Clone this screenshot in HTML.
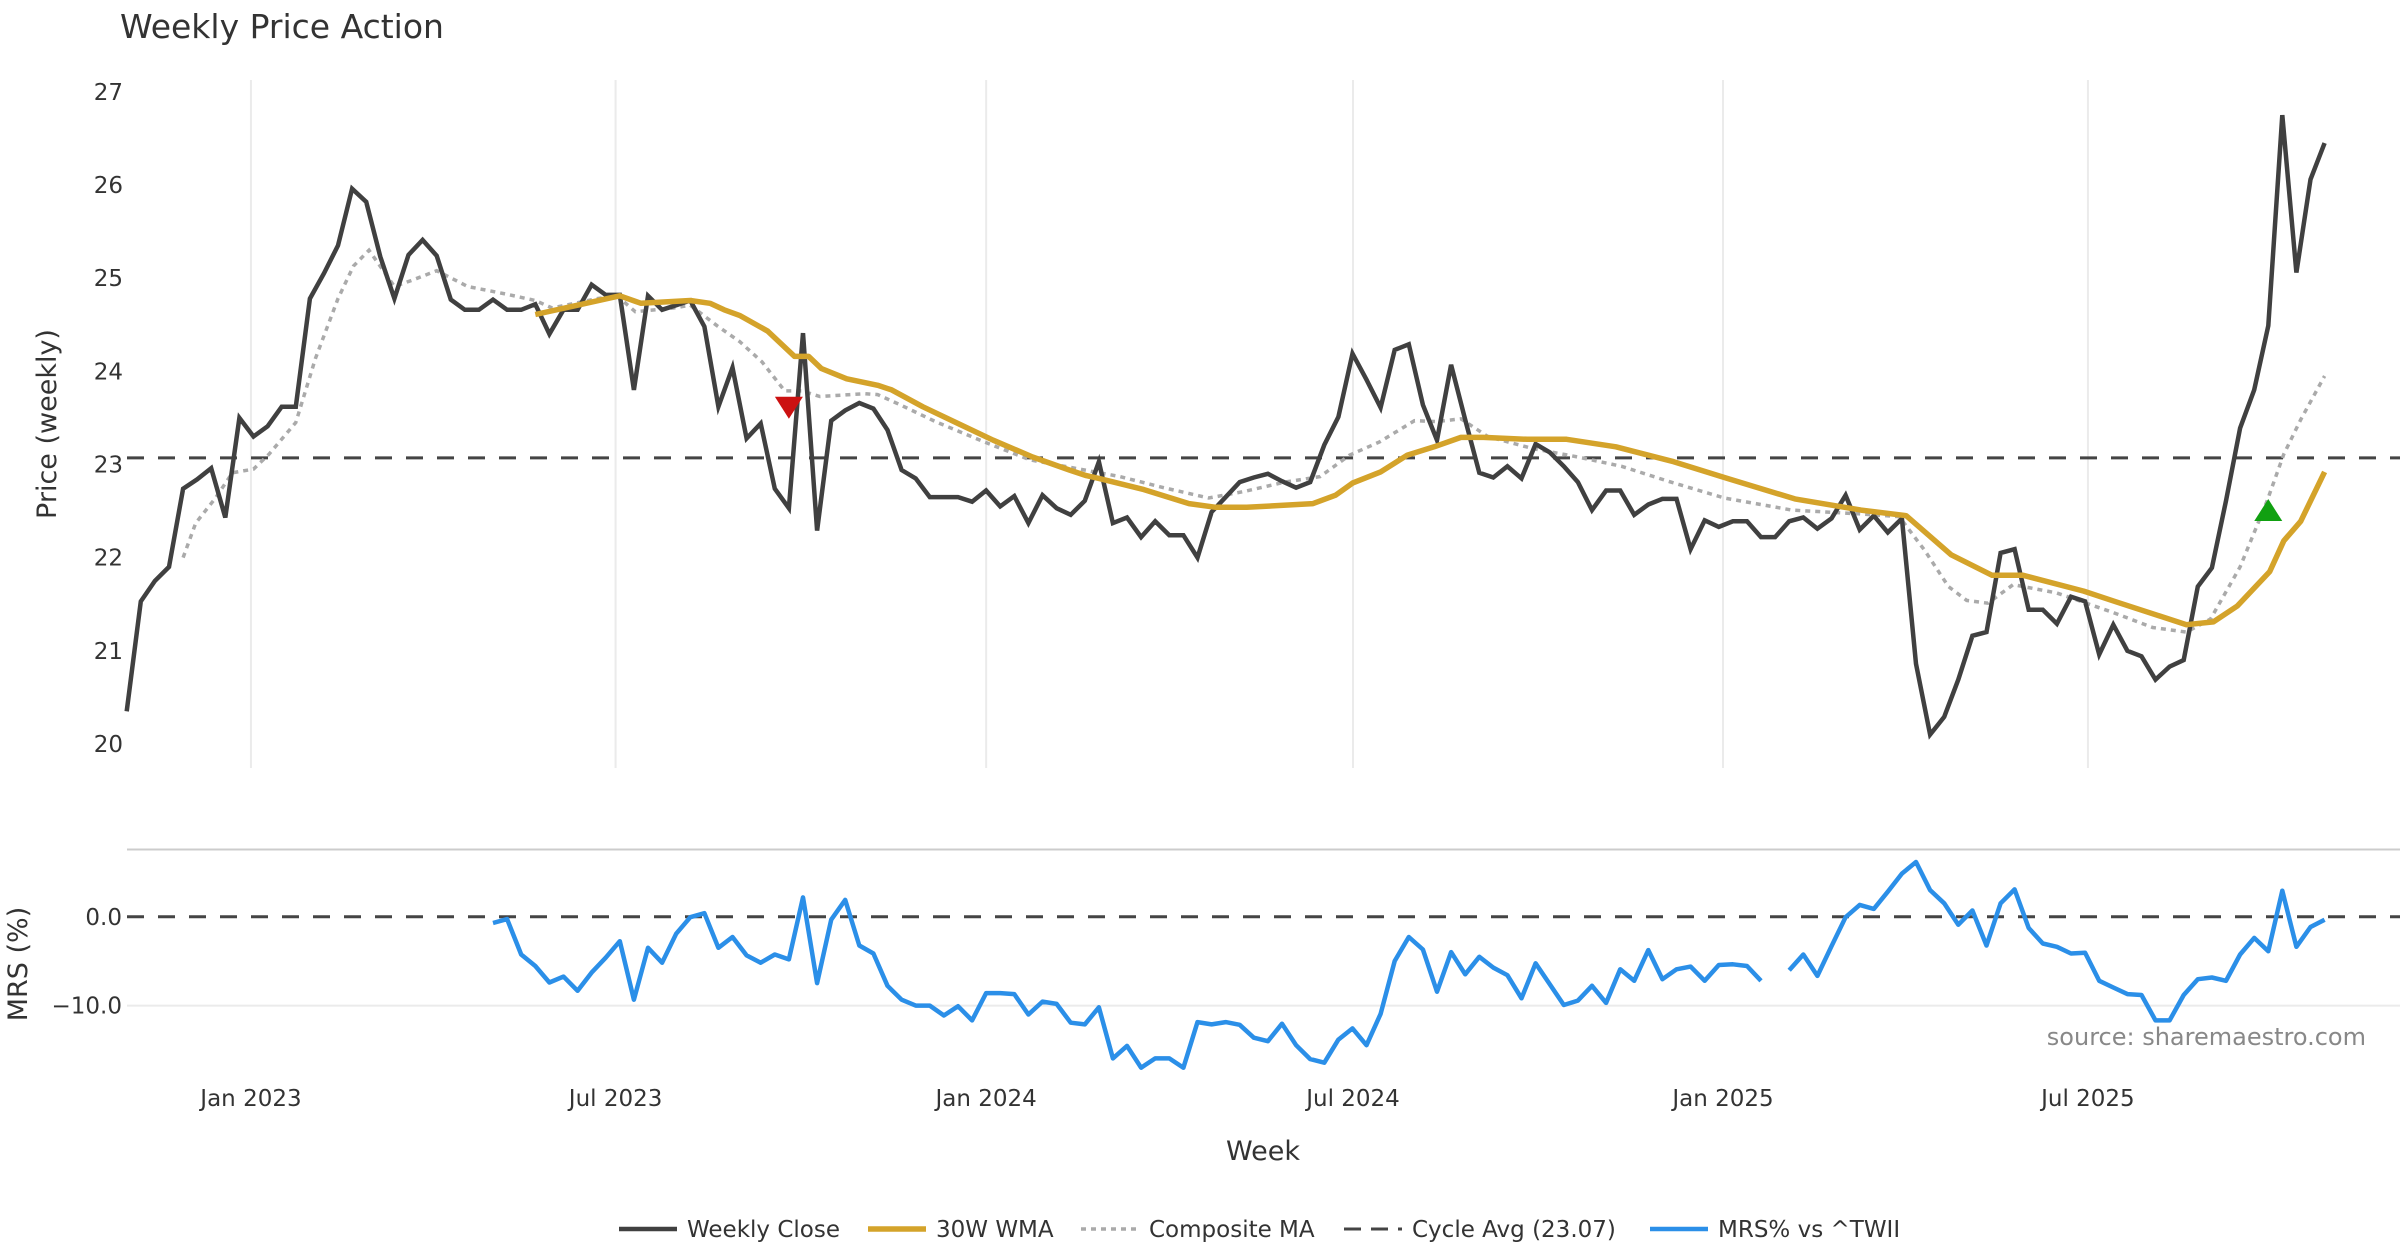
<!DOCTYPE html>
<html><head><meta charset="utf-8"><title>Weekly Price Action</title>
<style>
html,body{margin:0;padding:0;background:#fff;}
svg{display:block;font-family:"DejaVu Sans","Liberation Sans",sans-serif;}
</style></head>
<body>
<svg id="chart" width="2400" height="1260" viewBox="0 0 2400 1260" xmlns="http://www.w3.org/2000/svg">
<text x="120" y="38" font-size="33" fill="#333">Weekly Price Action</text>
<text transform="translate(56,424) rotate(-90)" text-anchor="middle" font-size="27" fill="#333">Price (weekly)</text>
<text transform="translate(27,964) rotate(-90)" text-anchor="middle" font-size="27" fill="#333">MRS (%)</text>
<text x="1263" y="1160" text-anchor="middle" font-size="27" fill="#333">Week</text>
<text x="2366" y="1045" text-anchor="end" font-size="24" fill="#888">source: sharemaestro.com</text>
<g id="grid"></g><g id="series"></g><g id="axes"></g><g id="legend"></g>
</svg>
<script>
const closeVals=[20.35,21.53,21.75,21.90,22.74,22.84,22.96,22.43,23.50,23.30,23.41,23.62,23.62,24.78,25.05,25.35,25.96,25.82,25.23,24.78,25.25,25.41,25.24,24.77,24.66,24.66,24.77,24.66,24.66,24.72,24.40,24.66,24.66,24.93,24.82,24.82,23.80,24.81,24.66,24.71,24.76,24.48,23.62,24.04,23.28,23.44,22.74,22.53,24.41,22.29,23.47,23.58,23.66,23.60,23.37,22.94,22.85,22.65,22.65,22.65,22.60,22.72,22.55,22.66,22.37,22.67,22.53,22.46,22.61,23.03,22.37,22.43,22.22,22.39,22.24,22.24,22.00,22.49,22.65,22.81,22.86,22.90,22.82,22.75,22.81,23.21,23.51,24.19,23.91,23.61,24.23,24.29,23.64,23.26,24.07,23.48,22.91,22.86,22.98,22.85,23.22,23.13,22.98,22.81,22.51,22.72,22.72,22.46,22.57,22.63,22.63,22.09,22.40,22.33,22.39,22.39,22.22,22.22,22.39,22.43,22.31,22.42,22.67,22.30,22.45,22.27,22.42,20.86,20.10,20.29,20.69,21.16,21.20,22.05,22.09,21.44,21.44,21.29,21.58,21.53,20.96,21.28,21.00,20.94,20.69,20.83,20.90,21.69,21.89,22.61,23.39,23.80,24.49,26.75,25.06,26.06,26.45];
const wmaIdx=[29,32,35,36.5,40,41.4,42.4,43.5,45.5,47.4,48.4,49.3,51.1,53.3,54.3,56.5,59,61.5,64.3,66.9,68.1,69,72.2,75.4,77.3,79.5,84.2,85.8,87,89,90.9,92.8,94.7,96.3,99.4,102.2,105.7,109.8,113.6,118.4,123.1,126.3,129.5,132.4,134.6,138.9,141.3,146.2,148.1,149.8,152.1,153.1,154.3,156];
const wmaVals=[24.61,24.71,24.81,24.73,24.76,24.73,24.66,24.60,24.43,24.16,24.16,24.03,23.92,23.85,23.80,23.62,23.44,23.26,23.08,22.94,22.88,22.85,22.73,22.58,22.54,22.54,22.58,22.67,22.80,22.92,23.10,23.19,23.29,23.29,23.27,23.27,23.19,23.03,22.85,22.63,22.51,22.45,22.03,21.81,21.81,21.64,21.52,21.28,21.31,21.48,21.85,22.18,22.39,22.92];
const compIdx=[4,4.9,6.3,7.5,9,10.1,12,13.4,15,16.1,17.2,19,20.3,22,24.2,26.9,29,30.2,33.4,34.8,36.1,38.8,40,41.9,43.5,45.1,46.7,47.9,49.2,52.4,53.3,54.9,57.4,60.9,64.1,67.3,70.5,73.6,76.8,79.3,82.2,84.7,86.8,88.9,91.4,93,94.7,96.6,99.8,103,106.1,109.6,113.4,118.2,122.9,125.8,127.6,129.3,130.6,132.1,133.9,137,141,143.8,146.2,147.9,150,151.9,153.1,154.3,156];
const compVals=[22.0,22.37,22.64,22.91,22.95,23.11,23.45,24.14,24.78,25.13,25.30,24.91,24.98,25.08,24.91,24.83,24.76,24.68,24.78,24.81,24.64,24.68,24.71,24.49,24.32,24.10,23.79,23.79,23.73,23.76,23.75,23.64,23.46,23.24,23.05,22.96,22.87,22.75,22.64,22.71,22.81,22.87,23.10,23.24,23.47,23.46,23.49,23.30,23.17,23.08,22.98,22.81,22.64,22.51,22.47,22.44,22.08,21.69,21.54,21.51,21.71,21.62,21.41,21.25,21.20,21.34,21.90,22.60,23.11,23.48,23.95];
const mrsStart=26;
const mrsVals=[-0.7,-0.26,-4.24,-5.54,-7.40,-6.73,-8.33,-6.28,-4.61,-2.75,-9.33,-3.49,-5.17,-1.90,-0.04,0.41,-3.49,-2.27,-4.35,-5.17,-4.24,-4.80,2.19,-7.47,-0.33,1.90,-3.23,-4.13,-7.77,-9.33,-10.0,-10.0,-11.12,-10.07,-11.67,-8.59,-8.59,-8.70,-11.0,-9.55,-9.81,-11.93,-12.12,-10.19,-15.95,-14.54,-16.99,-15.95,-15.95,-16.99,-11.86,-12.12,-11.86,-12.16,-13.61,-14.01,-12.04,-14.46,-16.02,-16.43,-13.83,-12.57,-14.46,-10.93,-4.98,-2.27,-3.68,-8.44,-3.98,-6.47,-4.50,-5.72,-6.58,-9.18,-5.24,-7.58,-9.93,-9.44,-7.77,-9.70,-5.91,-7.21,-3.75,-7.03,-5.91,-5.61,-7.21,-5.43,-5.35,-5.54,-7.21,null,-6.02,-4.24,-6.65,-3.31,-0.04,1.34,0.89,2.83,4.87,6.17,3.01,1.52,-0.89,0.71,-3.23,1.52,3.09,-1.26,-3.01,-3.38,-4.13,-4.05,-7.21,-7.96,-8.70,-8.81,-11.67,-11.67,-8.81,-7.03,-6.84,-7.21,-4.24,-2.38,-3.87,2.94,-3.38,-1.15,-0.33];
const priceTicks=[20,21,22,23,24,25,26,27];
const mrsTicks=[0,-10];
const mrsTickLabels=["0.0","\u221210.0"];
const xTickIdx=[8.82,34.7,61.0,87.04,113.3,139.2];
const xTickLabels=["Jan 2023","Jul 2023","Jan 2024","Jul 2024","Jan 2025","Jul 2025"];
const cycleAvg=23.07;
const sellSignal=[47,23.62];
const buySignal=[152,22.5];

const NS="http://www.w3.org/2000/svg";
const X=i=>126.7+i*9.205*1.5306;
const Y=p=>743.9-93.15*(p-20);
const M=v=>916.8-8.88*v;
function mk(parent,tag,attrs){const e=document.createElementNS(NS,tag);for(const k in attrs)e.setAttribute(k,attrs[k]);document.getElementById(parent).appendChild(e);return e;}

xTickIdx.forEach((t,k)=>{
  const g=mk('grid','line',{x1:X(t),x2:X(t),y1:80,y2:768,stroke:'#ebebeb','stroke-width':2});
  
  
  const l=mk('axes','text',{x:X(t),y:1106,'text-anchor':'middle','font-size':23,fill:'#333'});
  l.textContent=xTickLabels[k];
  
  
});
priceTicks.forEach(p=>{
  const l=mk('axes','text',{x:123,y:Y(p)+8,'text-anchor':'end','font-size':23,fill:'#333'});
  l.textContent=p;
  
  
});
mrsTicks.forEach((v,k)=>{
  if(v!==0){const g=mk('grid','line',{x1:127,x2:2400,y1:M(v),y2:M(v),stroke:'#ebebeb','stroke-width':2});
  
  }
  const l=mk('axes','text',{x:122,y:M(v)+8,'text-anchor':'end','font-size':23,fill:'#333'});
  l.textContent=mrsTickLabels[k];
  
  
});
const sep=mk('grid','line',{x1:127,x2:2400,y1:849.5,y2:849.5,stroke:'#cccccc','stroke-width':2});


const mz=mk('grid','line',{x1:127,x2:2400,y1:M(0),y2:M(0),stroke:'#444','stroke-width':3,'stroke-dasharray':'17,14'});


const cy=mk('series','line',{x1:127,x2:2400,y1:Y(cycleAvg),y2:Y(cycleAvg),stroke:'#444','stroke-width':3,'stroke-dasharray':'17,14'});



function pts(idx,vals,fy){return vals.map((v,k)=>X(idx[k]).toFixed(1)+','+fy(v).toFixed(1)).join(' ');}
const comp=mk('series','polyline',{points:pts(compIdx,compVals,Y),fill:'none',stroke:'#aaaaaa','stroke-width':3.5,'stroke-dasharray':'5,5'});


const cIdx=closeVals.map((v,i)=>i);
const cl=mk('series','polyline',{points:pts(cIdx,closeVals,Y),fill:'none',stroke:'#404040','stroke-width':4.5,'stroke-linejoin':'miter'});


const wm=mk('series','polyline',{points:pts(wmaIdx,wmaVals,Y),fill:'none',stroke:'#d4a32a','stroke-width':5.5,'stroke-linejoin':'round'});



let segs=[],cur=[];
mrsVals.forEach((v,k)=>{if(v===null){if(cur.length)segs.push(cur);cur=[];}else cur.push(X(mrsStart+k).toFixed(1)+','+M(v).toFixed(1));});
if(cur.length)segs.push(cur);
segs.forEach(s=>{
  const p=mk('series','polyline',{points:s.join(' '),fill:'none',stroke:'#2b8fe8','stroke-width':4.5,'stroke-linejoin':'round'});
  
  
});

const sx=X(sellSignal[0]),sy=Y(sellSignal[1]);
const sm=mk('series','polygon',{points:`${sx-14},${sy-10} ${sx+14},${sy-10} ${sx},${sy+12}`,fill:'#cc1111'});


const bx=X(buySignal[0]),by=Y(buySignal[1]);
const bm=mk('series','polygon',{points:`${bx-14},${by+10} ${bx+14},${by+10} ${bx},${by-12}`,fill:'#11a011'});



const legendItems=[["Weekly Close",619,'#404040',4.5,''],["30W WMA",868,'#d4a32a',5.5,''],["Composite MA",1081,'#aaaaaa',3.5,'5,5'],["Cycle Avg (23.07)",1344,'#444',3,'17,10'],["MRS% vs ^TWII",1650,'#2b8fe8',4.5,'']];
legendItems.forEach(it=>{
  const ln=mk('legend','line',{x1:it[1],x2:it[1]+58,y1:1229,y2:1229,stroke:it[2],'stroke-width':it[3]});
  if(it[4])ln.setAttribute('stroke-dasharray',it[4]);
  
  
  const t=mk('legend','text',{x:it[1]+68,y:1237,'font-size':23,fill:'#333'});
  t.textContent=it[0];
  
  
});
</script>
</body></html>
